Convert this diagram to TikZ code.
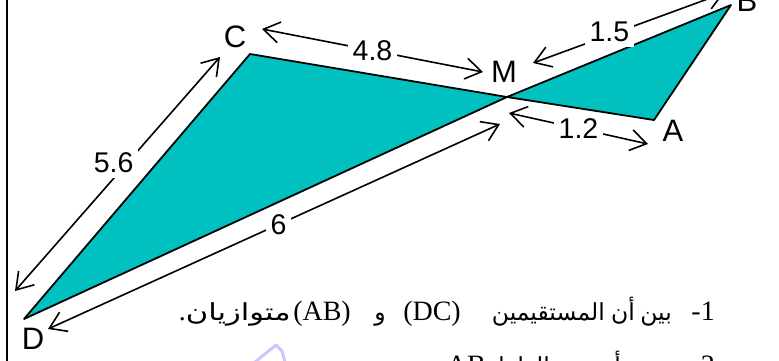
\documentclass[tikz,border=0pt]{standalone}
\usepackage{fontspec}
\setmainfont{Liberation Sans}
\newfontfamily\serifff{Liberation Serif}
\newfontfamily\arabicfont[Script=Arabic]{DejaVu Sans}
\newfontfamily\arabicwide[Script=Arabic,FakeStretch=1.3]{DejaVu Sans}
\usetikzlibrary{arrows.meta}
\TeXXeTstate=1
\definecolor{polyfill}{RGB}{0,192,192}
\definecolor{wmark}{RGB}{200,200,255}
\begin{document}
\begin{tikzpicture}[x=1pt,y=-1pt,
  barb/.tip={Straight Barb[length=16pt,width=21pt,line width=1.6pt]},
  dim/.style={line width=1.6pt,barb-barb},
  vlab/.style={font=\fontsize{31}{31}\selectfont,inner sep=0pt},
  nlab/.style={font=\fontsize{28.5}{28.5}\selectfont,fill=white,inner sep=5pt},
  artxt/.style={font=\arabicfont\fontsize{23.5}{28}\selectfont,anchor=base east,inner sep=0pt},
  artxtw/.style={font=\arabicwide\fontsize{23.5}{28}\selectfont,anchor=base east,inner sep=0pt},
  lattxt/.style={font=\serifff\fontsize{28}{32}\selectfont,anchor=base east,inner sep=0pt}]
\useasboundingbox (0,0) rectangle (779,360);
\clip (0,0) rectangle (779,360);
% frame edge
\draw[line width=2pt] (6.5,-2) -- (6.5,362);
% figure
\coordinate (D) at (24,319);
\coordinate (C) at (250,54);
\coordinate (M) at (507,97);
\coordinate (A) at (654,120);
\coordinate (B) at (731,5);
\filldraw[fill=polyfill,draw=black,line width=1.8pt,line join=round]
  (D) -- (C) -- (M) -- (A) -- (B) -- (M) -- cycle;
% vertex labels
\node[vlab] (lC) at (235,37) {C};
\node[vlab] (lM) at (504,72) {M};
\node[vlab] (lA) at (673,131) {A};
\node[vlab] (lB) at (747,1) {B};
\node[vlab] (lD) at (33,339) {D};
% dimension arrows
\coordinate (p1) at (262,29);  \coordinate (p2) at (483,72);
\coordinate (q1) at (533,63);  \coordinate (q2) at (724,-7);
\coordinate (r1) at (509,113); \coordinate (r2) at (648,144);
\coordinate (s1) at (15,291);  \coordinate (s2) at (220,57);
\coordinate (t1) at (48,329);  \coordinate (t2) at (500,124);
\draw[dim] (p1) -- node[nlab] (n48) {4.8} (p2);
\draw[dim] (q2) -- node[nlab,pos=0.6,yshift=3pt] (n15) {1.5} (q1);
\draw[dim] (r1) -- node[nlab] (n12) {1.2} (r2);
\draw[dim] (s1) -- node[nlab,pos=0.53,xshift=-10pt,yshift=4pt] (n56) {5.6} (s2);
\draw[dim] (t1) -- node[nlab,pos=0.51] (n6) {6} (t2);
% watermark fragment
\draw[wmark,line width=3pt,line join=round] (255,362) -- (276,345) -- (282,351) -- (285,362);
% text line 1
\node[lattxt] (w1) at (715,320) {-1};
\node[artxt] (w2) at (672,320) {\beginR بين\endR};
\node[artxt] (w3) at (635,320) {\beginR أن\endR};
\node[artxt] (w4) at (605,320) {\beginR المستقيمين\endR};
\node[lattxt] (w5) at (461,320) {(DC)};
\node[artxt] (w6) at (386,320) {\beginR و\endR};
\node[lattxt] (w7) at (351,320) {(AB)};
\node[artxtw] (w8) at (291,320) {\beginR متوازيان\endR};
\node[lattxt] (w9) at (186,320) {.};
% text line 2 (cut off)
\node[lattxt] (x1) at (715,374) {-2};
\node[artxt] (x2) at (621,374) {\beginR أحسب\endR};
\node[artxt] (x3) at (550,374) {\beginR الطول\endR};
\node[lattxt] (x4) at (486,374) {AB};
\end{tikzpicture}
\end{document}
